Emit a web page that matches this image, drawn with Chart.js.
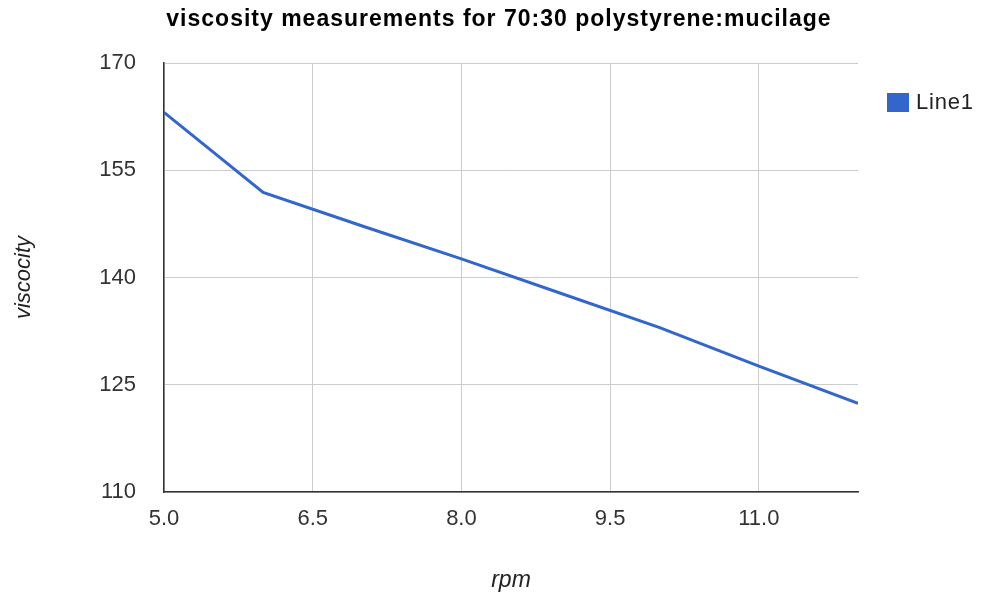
<!DOCTYPE html>
<html>
<head>
<meta charset="utf-8">
<script src="https://cdn.jsdelivr.net/npm/chart.js@4"></script>
<style>
  body { margin: 0; background: #fff; }
  #wrap { position: relative; width: 984px; height: 594px; }
  #title { position: absolute; left: 0; width: 998px; top: 5px; text-align: center; font: bold 23px Arial, "Liberation Sans", sans-serif; letter-spacing: 1px; color: #000; }
  #legend { position: absolute; left: 887px; top: 89px; font: 22px Arial, "Liberation Sans", sans-serif; letter-spacing: 0.8px; color: #222; display: flex; align-items: center; }
  #legend span.box { display: inline-block; width: 22px; height: 19px; background: #3366cc; margin-right: 7px; }
</style>
</head>
<body>
<div id="wrap">
  <canvas id="chart" width="984" height="594"></canvas>
  <div id="title">viscosity measurements for 70:30 polystyrene:mucilage</div>
  <div id="legend"><span class="box"></span><span>Line1</span></div>
</div>
<script>
const rpm = [5, 6, 7, 8, 9, 10, 11, 12];
const viscosity = [163.1, 151.9, 147.2, 142.6, 137.8, 133.0, 127.6, 122.4];
const xTicks = [5, 6.5, 8, 9.5, 11];
const yTicks = [110, 125, 140, 155, 170];

const font = 'Arial, "Liberation Sans", sans-serif';

new Chart(document.getElementById('chart'), {
  type: 'line',
  data: {
    datasets: [{
      label: 'Line1',
      data: rpm.map((x, i) => ({ x: x, y: viscosity[i] })),
      borderColor: '#3366cc',
      backgroundColor: '#3366cc',
      borderWidth: 3,
      pointRadius: 0,
      tension: 0
    }]
  },
  options: {
    responsive: false,
    animation: false,
    layout: { padding: { top: 63, left: 0, right: 126, bottom: 0 } },
    plugins: {
      legend: { display: false },
      tooltip: { enabled: false },
      title: { display: false }
    },
    scales: {
      x: {
        type: 'linear',
        min: 5,
        max: 12,
        afterBuildTicks: axis => { axis.ticks = xTicks.map(v => ({ value: v })); },
        afterFit: scale => { scale.height = 102; },
        ticks: { color: '#333', font: { family: font, size: 22 }, padding: 14, callback: v => Number(v).toFixed(1) },
        grid: { color: '#cccccc', drawTicks: false },
        border: { color: '#333', width: 1.5 },
        title: { display: true, text: 'rpm', color: '#222', font: { family: font, size: 23, style: 'italic' }, padding: { top: 0, bottom: 0 } }
      },
      y: {
        min: 110,
        max: 170,
        afterBuildTicks: axis => { axis.ticks = yTicks.map(v => ({ value: v })); },
        afterFit: scale => { scale.width = 164; },
        ticks: { color: '#333', font: { family: font, size: 22 }, padding: 28 },
        grid: { color: '#cccccc', drawTicks: false },
        border: { color: '#333', width: 1.5 },
        title: { display: true, text: 'viscocity', color: '#222', font: { family: font, size: 22, style: 'italic' }, padding: { top: 11, bottom: 0 } }
      }
    }
  }
});
</script>
</body>
</html>
